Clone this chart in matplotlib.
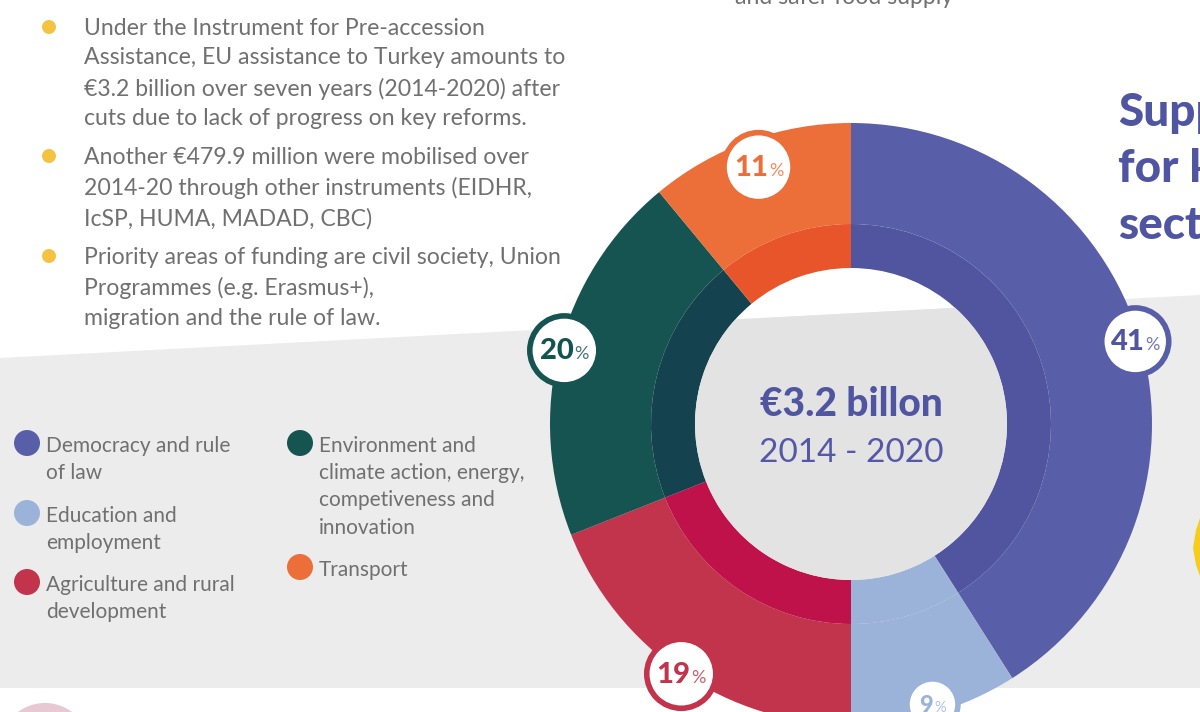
import math
import matplotlib
matplotlib.use("Agg")
import matplotlib.pyplot as plt
from matplotlib.patches import Circle, Polygon

plt.rcParams['font.family'] = ['Lato', 'DejaVu Sans']

# data
sectors = ["Democracy and rule\nof law", "Education and\nemployment", "Agriculture and rural\ndevelopment",
           "Environment and\nclimate action, energy,\ncompetiveness and\ninnovation", "Transport"]
shares = [41, 9, 19, 20, 11]
outer_colors = ["#585ea8", "#9bb2d9", "#c1344b", "#155451", "#ec6e39"]
inner_colors = ["#5155a0", "#9bb2d9", "#c0124a", "#14434f", "#e9552b"]
label_colors = ["#5055a2", "#9bb2d9", "#c1344b", "#135450", "#ec6e39"]
badge_sizes = [36, 28, 37, 37, 37]
badge_radius = [296, 292, 302, 296, 273]

bullets = [
    "Under the Instrument for Pre-accession\nAssistance, EU assistance to Turkey amounts to\n"
    "€3.2 billion over seven years (2014-2020) after\ncuts due to lack of progress on key reforms.",
    "Another €479.9 million were mobilised over\n2014-20 through other instruments (EIDHR,\nIcSP, HUMA, MADAD, CBC)",
    "Priority areas of funding are civil society, Union\nProgrammes (e.g. Erasmus+),\nmigration and the rule of law.",
]
total_text = "€3.2 billon"
period_text = "2014 - 2020"

W, H = 1200, 712
def Y(y):
    return H - y

fig = plt.figure(figsize=(12, 7.12), dpi=100)
ax = fig.add_axes([0, 0, 1, 1])

grey_band = Polygon([(0, Y(358)), (W, Y(295)), (W, Y(688)), (0, Y(688))],
                    closed=True, facecolor="#ececec", edgecolor="none", zorder=0)
ax.add_patch(grey_band)

# pink circle bottom left, yellow shape right edge
ax.add_patch(Circle((45, Y(748)), 45, facecolor="#e8c8d2", edgecolor="none", zorder=1))
ax.add_patch(Polygon([(1200, Y(518)), (1196, Y(530)), (1193, Y(548)), (1196, Y(565)), (1200, Y(576))],
                     closed=True, facecolor="#f6cc1f", edgecolor="none", zorder=1))

cx, cy = 851, Y(424)
R, r_ring, r_hole = 301, 200, 156

ax.pie(shares, colors=outer_colors, startangle=90, counterclock=False, center=(cx, cy),
       radius=R, wedgeprops=dict(width=R - r_ring, linewidth=0), frame=True)
ax.pie(shares, colors=inner_colors, startangle=90, counterclock=False, center=(cx, cy),
       radius=r_ring, wedgeprops=dict(width=r_ring - r_hole, linewidth=0), frame=True)

# hole tint where it crosses the grey band
hole = Circle((cx, cy), r_hole, facecolor="#e3e3e3", edgecolor="none", zorder=2)
ax.add_patch(hole)
hole.set_clip_path(grey_band)

ax.text(cx, Y(404), total_text, ha="center", va="center", fontsize=28, fontweight="black",
        color="#5055a2", zorder=5)
ax.text(cx, Y(453), period_text, ha="center", va="center", fontsize=24, color="#5558a6", zorder=5)

ax.set_xlim(0, W)
ax.set_ylim(0, H)
ax.set_aspect("auto")
ax.axis("off")

# percentage badges
fig.canvas.draw()
renderer = fig.canvas.get_renderer()
cum = 0
for v, col, tcol, bs, br in zip(shares, outer_colors, label_colors, badge_sizes, badge_radius):
    mid = math.radians(90 - 360 * (cum + v / 2) / 100)
    cum += v
    bx = cx + br * math.cos(mid)
    by = cy + br * math.sin(mid)
    ax.add_patch(Circle((bx, by), bs - 2.5, facecolor="white", edgecolor=col, linewidth=4, zorder=6))
    fs = 21 if bs > 30 else 17
    t1 = ax.text(bx, by, str(v), ha="left", va="center", fontsize=fs, fontweight="black",
                 color=tcol, zorder=7)
    t2 = ax.text(bx, by, "%", ha="left", va="center", fontsize=fs * 0.62, color=tcol,
                 alpha=0.8, zorder=7)
    w1 = t1.get_window_extent(renderer).width
    w2 = t2.get_window_extent(renderer).width
    start = bx - (w1 + w2 + 1) / 2
    t1.set_x(start)
    t1.set_y(by - 1)
    t2.set_x(start + w1 + 1)
    t2.set_y(by - 4)

# bullets top left
bullet_y = [27, 156, 256]
for y, txt in zip(bullet_y, bullets):
    ax.add_patch(Circle((49, Y(y)), 7, facecolor="#f5c342", edgecolor="none", zorder=3))
    ax.text(84, Y(y - 9), txt, ha="left", va="top", fontsize=16.6, color="#707070",
            linespacing=1.5, zorder=3)

# legend
legend_pos = [(27, 443), (27, 513), (27, 582), (300, 443), (300, 567)]
for (lx, ly), name, col in zip(legend_pos, sectors, outer_colors):
    ax.add_patch(Circle((lx, Y(ly)), 13, facecolor=col, edgecolor="none", zorder=3))
    ax.text(lx + 19, Y(ly - 7), name, ha="left", va="top", fontsize=15, color="#707070",
            linespacing=1.45, zorder=3)

# text cut off by the crop
ax.text(735, Y(4), "and safer food supply", ha="left", va="baseline", fontsize=16.6,
        color="#707070", zorder=3)
ax.text(1118, Y(92), "Support\nfor key\nsectors", ha="left", va="top", fontsize=33,
        fontweight="black", color="#5055a2", linespacing=1.42, zorder=3)

fig.savefig("out.png", dpi=100, facecolor="white")
